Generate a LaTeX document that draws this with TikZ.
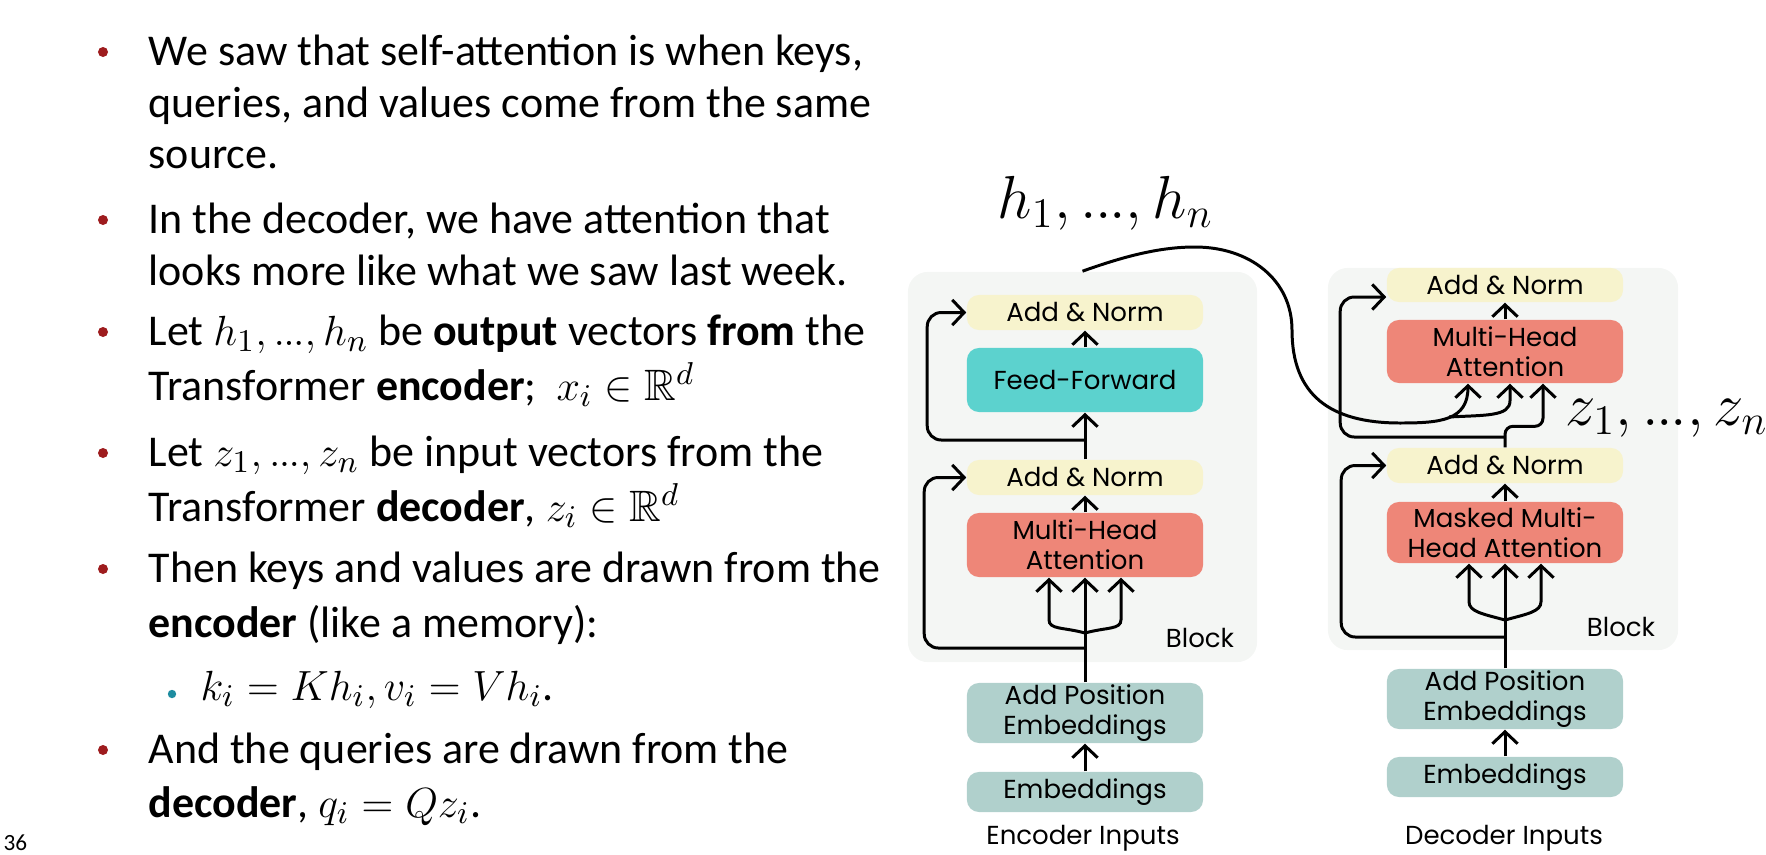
\documentclass[tikz,border=0pt]{standalone}
\usepackage{amssymb}
\usepackage{fontspec}
\setmainfont{Carlito}
\newfontfamily\diagfont{Poppins}
\usetikzlibrary{arrows.meta,calc}
\definecolor{slidered}{RGB}{158,28,30}
\definecolor{slideteal}{RGB}{30,140,160}
\definecolor{blockgray}{RGB}{244,246,244}
\definecolor{normyellow}{RGB}{247,243,205}
\definecolor{ffcyan}{RGB}{92,210,206}
\definecolor{attnred}{RGB}{238,134,120}
\definecolor{embteal}{RGB}{176,208,204}
\newcommand{\tdots}{\mathord{.\kern-0.04em.\kern-0.04em.}}

\begin{document}
\begin{tikzpicture}[x=0.01cm, y=-0.01cm,
    bodytext/.style={anchor=base west, inner sep=0pt, font=\fontsize{12.5}{15}\selectfont},
    layer/.style={rounded corners=0.12cm, minimum width=2.36cm, inner sep=0pt, align=center, font=\diagfont\fontsize{7.4}{8.6}\selectfont},
    caption/.style={inner sep=0pt, font=\diagfont\fontsize{7.4}{8.6}\selectfont},
    block/.style={fill=blockgray, rounded corners=0.2cm, inner sep=0pt},
    mathlabel/.style={anchor=base west, inner sep=0pt, font=\fontsize{16.5}{20}\selectfont},
    arr/.style={line width=0.85pt, -{Straight Barb[length=3.4pt, width=7.2pt]}},
    wire/.style={line width=0.85pt}]
    \useasboundingbox (0,0) rectangle (1766,854);

    % Bullet text
    \foreach \y/\t in {65/{We saw that self-attention is when keys,},
                       117/{queries, and values come from the same},
                       168/{source.},
                       233/{In the decoder, we have attention that},
                       285/{looks more like what we saw last week.},
                       345/{Let $h_1, \tdots, h_n$ be \textbf{output} vectors \textbf{from} the},
                       400/{Transformer \textbf{encoder};~ $x_i \in \mathbb{R}^d$},
                       466/{Let $z_1, \tdots, z_n$ be input vectors from the},
                       521/{Transformer \textbf{decoder}, $z_i \in \mathbb{R}^d$},
                       582/{Then keys and values are drawn from the},
                       637/{\textbf{encoder} (like a memory):},
                       763/{And the queries are drawn from the},
                       817/{\textbf{decoder}, $q_i = Qz_i$.}}
        \node[bodytext] (line\y) at (148,\y) {\t};
    \node[bodytext] (kvline) at (200,700) {$k_i = Kh_i, v_i = Vh_i$.};
    \foreach \y in {52,220,332,453,569,750}
        \fill[slidered] (103,\y) circle (0.05cm);
    \fill[slideteal] (172,694) circle (0.042cm);
    \node[anchor=base west, inner sep=0pt, font=\fontsize{6.6}{8}\selectfont] (pagenum) at (3,850) {36};

    % Block backgrounds
    \node[block, minimum width=3.49cm, minimum height=3.9cm] (eblock) at (1082.5,467) {};
    \node[block, minimum width=3.5cm, minimum height=3.82cm] (dblock) at (1503,459) {};

    % Encoder
    \node[layer, fill=normyellow, minimum height=0.35cm] (ean2) at (1085,312.5) {Add \& Norm};
    \node[layer, fill=ffcyan, minimum height=0.64cm] (eff) at (1085,380) {Feed-Forward};
    \node[layer, fill=normyellow, minimum height=0.35cm] (ean1) at (1085,477.5) {Add \& Norm};
    \node[layer, fill=attnred, minimum height=0.64cm] (emha) at (1085,545) {Multi-Head\\Attention};
    \node[layer, fill=embteal, minimum height=0.6cm] (eape) at (1085,713) {Add Position\\Embeddings};
    \node[layer, fill=embteal, minimum height=0.4cm] (eemb) at (1085,792) {Embeddings};
    \node[caption] (eblocklbl) at (1200,638) {Block};
    \node[caption] (einputs) at (1083,838) {Encoder Inputs};

    % Decoder
    \node[layer, fill=normyellow, minimum height=0.34cm] (dan2) at (1505,285) {Add \& Norm};
    \node[layer, fill=attnred, minimum height=0.63cm] (dmha) at (1505,351.5) {Multi-Head\\Attention};
    \node[layer, fill=normyellow, minimum height=0.35cm] (dan1) at (1505,465.5) {Add \& Norm};
    \node[layer, fill=attnred, minimum height=0.61cm] (dmmha) at (1505,532.5) {Masked Multi-\\Head Attention};
    \node[layer, fill=embteal, minimum height=0.6cm] (dape) at (1505,699) {Add Position\\Embeddings};
    \node[layer, fill=embteal, minimum height=0.4cm] (demb) at (1505,777) {Embeddings};
    \node[caption] (dblocklbl) at (1621,627) {Block};
    \node[caption] (dinputs) at (1504,838) {Decoder Inputs};

    % Labels
    \node[mathlabel] (hlabel) at (997,218) {$h_1, \tdots, h_n$};
    \node[mathlabel] (zlabel) at (1565,425) {$z_1, \tdots, z_n$};

    % Encoder connections
    \coordinate (esplit) at (1085,633);
    \coordinate (eres1) at (1085,648);
    \coordinate (eres2) at (1085,440);
    \draw[arr] (eemb) -- (eape);
    \draw[arr] (eape) -- (emha);
    \foreach \s in {-1,1}
        \draw[arr] (esplit) .. controls +(\s*22,-6) and +(0,10) .. ($(emha.south)+(\s*36,42)$) -- ($(emha.south)+(\s*36,0)$);
    \draw[arr, rounded corners=0.14cm] (eres1) -| ($(ean1.west)+(-42,0)$) -- (ean1.west);
    \draw[arr] (emha) -- (ean1);
    \draw[arr] (ean1) -- (eff);
    \draw[arr, rounded corners=0.14cm] (eres2) -| ($(ean2.west)+(-39,0)$) -- (ean2.west);
    \draw[arr] (eff) -- (ean2);

    % Decoder connections
    \coordinate (dsplit) at (1505,620);
    \coordinate (dres1) at (1505,637);
    \coordinate (dres2) at (1505,437);
    \draw[arr] (demb) -- (dape);
    \draw[arr] (dape) -- (dmmha);
    \foreach \s in {-1,1}
        \draw[arr] (dsplit) .. controls +(\s*22,-6) and +(0,10) .. ($(dmmha.south)+(\s*36,38)$) -- ($(dmmha.south)+(\s*36,0)$);
    \draw[arr, rounded corners=0.14cm] (dres1) -| ($(dan1.west)+(-45,0)$) -- (dan1.west);
    \draw[arr] (dmmha) -- (dan1);
    \draw[arr, rounded corners=0.08cm] (dan1.north) -- ($(dan1.north)+(0,-21)$) -| ($(dmha.south)+(38,0)$);
    \draw[arr, rounded corners=0.14cm] (dres2) -| ($(dan2.west)+(-46,12)$) -- ($(dan2.west)+(0,12)$);
    \draw[arr] (dmha) -- (dan2);

    % Encoder output into cross-attention
    \coordinate (kvsplit) at (1449,417);
    \draw[arr] (eblock.north) .. controls (1125,256) and (1160,247) .. (1195,247)
        .. controls (1250,247) and (1292,280) .. (1292,330)
        .. controls (1292,395) and (1330,423) .. (1400,423)
        .. controls (1440,423) and ($(dmha.south)+(-37,37)$) .. ($(dmha.south)+(-37,0)$);
    \draw[arr] (kvsplit) .. controls (1485,415) and ($(dmha.south)+(5,33)$) .. ($(dmha.south)+(5,17)$) -- ($(dmha.south)+(5,0)$);
\end{tikzpicture}
\end{document}
